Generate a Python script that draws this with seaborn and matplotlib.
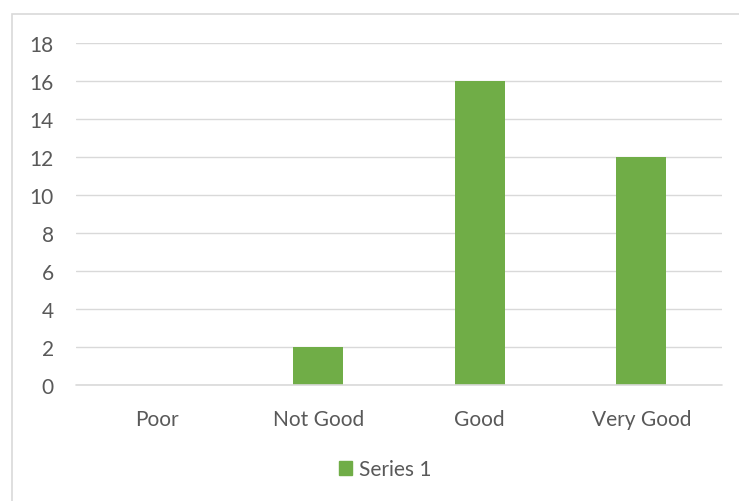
import matplotlib
matplotlib.use("Agg")
import matplotlib.pyplot as plt
import seaborn as sns
import pandas as pd
from matplotlib.patches import Rectangle, Patch

categories = ["Poor", "Not Good", "Good", "Very Good"]
values = [0, 2, 16, 12]
series_name = "Series 1"
yticks = [0, 2, 4, 6, 8, 10, 12, 14, 16, 18]

sns.set_theme(style="white")
plt.rcParams["font.family"] = ["Lato", "DejaVu Sans"]

df = pd.DataFrame({"category": categories, "value": values})

fig = plt.figure(figsize=(7.39, 5.02), dpi=100)
ax = fig.add_axes([76/739, 1-386/502, 646/739, 342/502])

sns.barplot(data=df, x="category", y="value", color="#70AD47", width=0.31,
            saturation=1, ax=ax, zorder=3, linewidth=0)

ax.set_ylim(0, 18)
ax.set_xlim(-0.5, 3.5)
ax.set_yticks(yticks)
ax.set_yticklabels([str(t) for t in yticks])
ax.grid(axis="y", color="#D9D9D9", lw=1.0, zorder=0)
ax.axhline(0, color="#D9D9D9", lw=1.2, zorder=4, clip_on=False)
for s in ax.spines.values():
    s.set_visible(False)
ax.set_xlabel("")
ax.set_ylabel("")
ax.tick_params(axis="both", length=0, labelsize=15, labelcolor="#595959")
ax.tick_params(axis="y", pad=16)
ax.tick_params(axis="x", pad=17)

leg = fig.legend(handles=[Patch(color="#70AD47", label=series_name)],
                 loc="center", bbox_to_anchor=(385/739, 1-470/502), frameon=False,
                 fontsize=15, handlelength=0.65, handleheight=0.65, handletextpad=0.3)
for t in leg.get_texts():
    t.set_color("#595959")

fig.patches.append(Rectangle((12/739, -0.1), 1.0, 1-15/502+0.1, transform=fig.transFigure,
                             fill=False, edgecolor="#D9D9D9", lw=1.2, figure=fig))

fig.savefig("out.png", dpi=100, facecolor="white")
